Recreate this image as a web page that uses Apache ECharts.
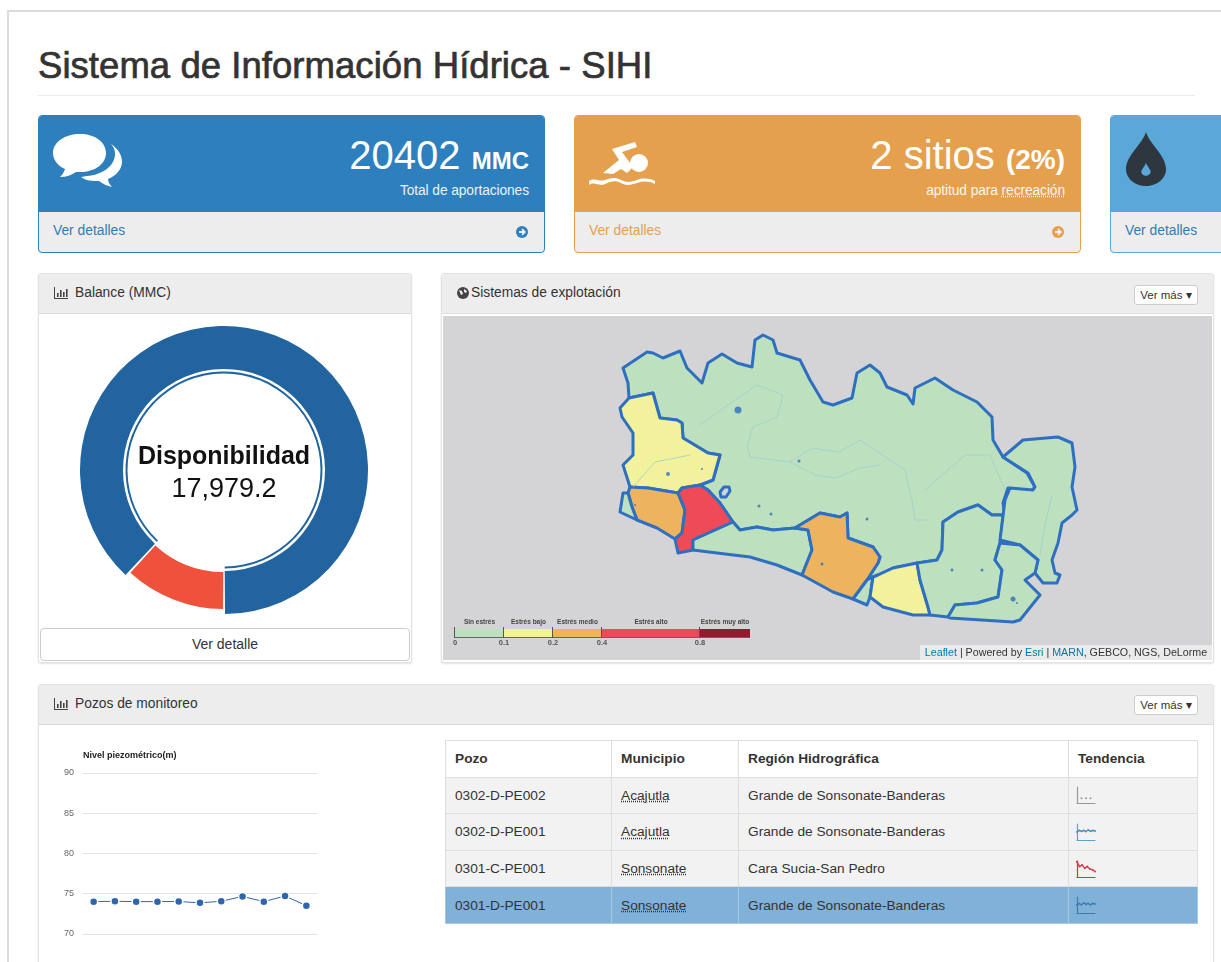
<!DOCTYPE html>
<html lang="es">
<head>
<meta charset="utf-8">
<title>Sistema de Información Hídrica - SIHI</title>
<script src="https://cdn.jsdelivr.net/npm/echarts@6/dist/echarts.min.js"></script>
<style>
html, body { margin: 0; padding: 0; width: 1221px; height: 962px; overflow: hidden; background: #fff; }
body { font-family: "Liberation Sans", Arial, sans-serif; color: #333; position: relative; }
.abs, .card, .panel, .btn { position: absolute; box-sizing: border-box; }
.frame { left: 7px; top: 10px; width: 1300px; height: 1000px; border: 2px solid #dcdcdc; }
h1 { position: absolute; left: 38px; top: 44px; margin: 0; font-size: 36.5px; font-weight: 500; line-height: 44px; color: #333; white-space: nowrap; -webkit-text-stroke: 0.7px #333; letter-spacing: 0.05px; }
.rule { left: 38px; top: 95px; width: 1157px; height: 1px; background: #eaeaea; }
.card { top: 115px; height: 138px; border-radius: 4px; border: 1px solid; overflow: hidden; background: #eeeded; }
.card .top { position: absolute; left: 0; top: 0; right: 0; height: 96px; }
.card .big { position: absolute; right: 15px; top: 14px; font-size: 40px; color: #fff; white-space: nowrap; line-height: 50px; }
.card .big b { font-size: 24px; }
.card .sub { position: absolute; right: 15px; top: 67px; font-size: 13.8px; letter-spacing: -0.1px; color: #fff; opacity: .9; white-space: nowrap; }
.card .sub u { text-decoration: underline dotted; }
.card .foot { position: absolute; left: 14px; top: 107px; font-size: 13.8px; }
.card svg.go { position: absolute; right: 16px; top: 110px; }
.panel { border: 1px solid #e3e3e3; border-radius: 3px; box-shadow: 0 1px 2px rgba(0,0,0,.12); background: #fff; }
.head { position: absolute; left: 0; top: 0; right: 0; height: 39px; background: #eeeded; border-bottom: 1px solid #dcdcdc; font-size: 13.8px; line-height: 38px; }
.head span { position: absolute; left: 36px; white-space: nowrap; }
.head svg { position: absolute; left: 15px; top: 13px; }
.btn { background: #fff; border: 1px solid #ccc; border-radius: 3px; font-size: 11.5px; line-height: 19px; text-align: center; color: #333; white-space: nowrap; }
table { position: absolute; left: 445px; top: 740px; width: 752px; border-collapse: collapse; table-layout: fixed; font-size: 13.7px; }
th, td { border: 1px solid #dedede; height: 36.6px; padding: 0 0 0 9px; text-align: left; box-sizing: border-box; white-space: nowrap; }
td u { text-decoration: underline dotted; }
tbody tr { background: #f3f2f3; }
tbody tr.sel { background: #80b1d9; }
tr.sel td { border-color: #a8c8e2; }
.legend { left: 455px; top: 617px; width: 295px; height: 34px; }
.legend div { position: absolute; white-space: nowrap; }
.attrib { left: 920px; top: 645px; width: 292px; height: 15px; background: rgba(240,240,240,.8); font-size: 10.7px; line-height: 15px; text-align: center; color: #333; white-space: nowrap; }
.attrib a { color: #0078a8; }
</style>
</head>
<body>
<div class="abs frame"></div>
<h1>Sistema de Información Hídrica - SIHI</h1>
<div class="abs rule"></div>

<div class="card" style="left:38px;width:507px;border-color:#2e7fbd">
  <div class="top" style="background:#2e7fbd"></div>
  <svg class="abs" style="left:14px;top:18px" width="72" height="60" viewBox="0 0 72 60" fill="#fff">
    <path d="M27 0C12 0 0 8 0 19c0 7 5 13 12 16-1 3-2 5-5 8 6 0 12-2 16-5 1 0 3 0 4 0 15 0 26-8 26-19S42 0 27 0z"/>
    <path d="M58 10c3 3 4 7 4 10 0 12-13 21-28 22l-6 1c4 3 9 4 14 4 2 0 3 0 4 0 4 3 8 5 13 6-2-2-4-5-4-8 8-3 14-10 14-17 0-8-5-14-11-18z"/>
  </svg>
  <div class="big">20402 <b>MMC</b></div>
  <div class="sub">Total de aportaciones</div>
  <div class="foot" style="color:#337ab7">Ver detalles</div>
  <svg class="go" width="12" height="12" viewBox="0 0 12 12"><circle cx="6" cy="6" r="6" fill="#2e7fbd"/><path d="M3 6h5M6 3.2 8.8 6 6 8.8" stroke="#eee" stroke-width="1.8" fill="none"/></svg>
</div>

<div class="card" style="left:574px;width:507px;border-color:#e5a04d">
  <div class="top" style="background:#e5a04d"></div>
  <svg class="abs" style="left:14px;top:20px" width="66" height="56" viewBox="0 0 66 56" fill="#fff">
    <circle cx="50" cy="27" r="9"/>
    <path d="M14 37 30 24 23 13 46 6 48 11 33 16 44 31 38 37 32 33 24 38z"/>
    <path d="M0 45c6-4 10 1 16-1s10-3 16 0 11 2 16 0 12-2 18 1v3c-6-3-12-3-18-1s-11 3-16 0-10-2-16 1-10-3-16 1z"/>
  </svg>
  <div class="big">2 sitios <b style="font-size:28px">(2%)</b></div>
  <div class="sub">aptitud para <u>recreación</u></div>
  <div class="foot" style="color:#e5a04d">Ver detalles</div>
  <svg class="go" width="12" height="12" viewBox="0 0 12 12"><circle cx="6" cy="6" r="6" fill="#e5a04d"/><path d="M3 6h5M6 3.2 8.8 6 6 8.8" stroke="#eee" stroke-width="1.8" fill="none"/></svg>
</div>

<div class="card" style="left:1110px;width:300px;border-color:#5aa8d8">
  <div class="top" style="background:#5aa8d8"></div>
  <svg class="abs" style="left:15px;top:15px" width="40" height="56" viewBox="0 0 34 60" preserveAspectRatio="none">
    <path d="M17 1C14 14 0 26 0 41c0 10 8 18 17 18s17-8 17-18C34 26 20 14 17 1z" fill="#2e3740"/>
    <path d="M17 34c-1 4-4 7-4 10 0 2 2 4 4 4s4-2 4-4c0-3-3-6-4-10z" fill="#5aa8d8"/>
  </svg>
  <div class="foot" style="color:#337ab7">Ver detalles</div>
</div>

<div class="panel" style="left:38px;top:273px;width:374px;height:390px">
  <div class="head"><svg width="14" height="12" viewBox="0 0 14 12" fill="#444"><path d="M0 0h1v11h13v1H0z"/><path d="M3 6h1.6v4H3zM6 3h1.6v7H6zM9 5h1.6v5H9zM12 2h1.6v8H12z"/></svg><span>Balance (MMC)</span></div>
</div>
<div class="btn" style="left:40px;top:628px;width:370px;height:33px;line-height:31px;font-size:14px;border-radius:4px">Ver detalle</div>

<div class="panel" style="left:441px;top:273px;width:773px;height:390px">
  <div class="head"><svg width="12" height="12" viewBox="0 0 12 12"><circle cx="6" cy="6" r="6" fill="#444"/><path d="M2 3l3 1 1 3-2 1zM7 2l3 2-1 2-2-1z" fill="#eee"/></svg><span style="left:29px">Sistemas de explotación</span></div>
</div>
<div class="btn" style="left:1134px;top:285px;width:64px;height:20px">Ver más ▾</div>
<div id="map" class="abs" style="left:443px;top:316px;width:769px;height:344px"></div>
<div class="abs legend" id="legend"></div>
<div class="abs attrib"><a>Leaflet</a> | Powered by <a>Esri</a> | <a>MARN</a>, GEBCO, NGS, DeLorme</div>

<div class="panel" style="left:38px;top:684px;width:1176px;height:320px">
  <div class="head"><svg width="14" height="12" viewBox="0 0 14 12" fill="#444"><path d="M0 0h1v11h13v1H0z"/><path d="M3 6h1.6v4H3zM6 3h1.6v7H6zM9 5h1.6v5H9zM12 2h1.6v8H12z"/></svg><span>Pozos de monitoreo</span></div>
</div>
<div class="btn" style="left:1134px;top:695px;width:64px;height:20px">Ver más ▾</div>

<div id="donut" class="abs" style="left:44px;top:316px;width:360px;height:308px"></div>
<div id="nivel" class="abs" style="left:44px;top:745px;width:290px;height:250px"></div>
<table id="pozos"></table>

<script>
// balance
const balanceLabels = ['Comprometido', 'Disponibilidad'];
const balanceValues = [2422.8, 17979.2];
const balanceColors = ['#f0513a', '#22649f'];

// nivel piezometrico
const nivelMeses = ['1', '2', '3', '4', '5', '6', '7', '8', '9', '10', '11'];
const nivelValues = [74.0, 74.05, 74.0, 74.0, 74.02, 73.85, 74.05, 74.65, 74.0, 74.7, 73.5];

// tabla de pozos
const pozos = ['0302-D-PE002', '0302-D-PE001', '0301-C-PE001', '0301-D-PE001'];
const municipios = ['Acajutla', 'Acajutla', 'Sonsonate', 'Sonsonate'];
const regiones = ['Grande de Sonsonate-Banderas', 'Grande de Sonsonate-Banderas', 'Cara Sucia-San Pedro', 'Grande de Sonsonate-Banderas'];
const tendGris = [null, null, 3, null, 3, null, 3, null, null];
const tendAzul = [5, 6, 5.4, 6, 5.3, 6.2, 5.4, 6, 5.6];
const tendRojo = [9.5, 6.5, 7.5, 5.5, 6.5, 5, 4.5, 3.5];
const tendAzul2 = [5, 6, 5.2, 6.2, 5.4, 6, 5.2, 6, 5.6];

// estres hidrico
const estresNombres = ['Sin estrés', 'Estrés bajo', 'Estrés medio', 'Estrés alto', 'Estrés muy alto'];
const estresTicks = [0, 0.1, 0.2, 0.4, 0.8];
const estresColores = ['#bde1bf', '#f3f29c', '#edb35f', '#ef4a57', '#8f1d2f'];

// sistemas de explotacion, contornos
const sisNorte = [[623,368],[647,352],[653,353],[663,358],[680,351],[687,368],[702,383],[708,363],[722,354],[737,363],[752,367],[755,340],[763,335],[773,340],[777,353],[800,360],[810,380],[823,402],[833,405],[852,398],[857,373],[870,365],[880,373],[887,387],[907,395],[913,404],[915,388],[935,378],[953,390],[977,402],[992,417],[993,440],[1003,457],[1027,473],[1035,487],[1030,492],[1008,488],[1003,503],[1005,515],[992,515],[978,505],[958,512],[943,522],[942,550],[937,560],[918,563],[893,568],[878,575],[867,580],[878,563],[880,557],[873,547],[848,538],[847,513],[840,517],[820,513],[795,528],[773,530],[757,527],[740,530],[733,522],[720,503],[708,490],[700,485],[713,480],[720,455],[708,453],[683,438],[682,423],[677,420],[660,418],[653,393],[629,398],[628,383]];
const sisOesteAlto = [[653,393],[660,418],[677,420],[682,423],[683,438],[708,453],[720,455],[713,480],[700,485],[682,488],[678,493],[648,488],[630,487],[623,465],[633,455],[633,433],[622,417],[620,408],[629,398]];
const sisOesteBajo = [[630,487],[648,488],[678,493],[685,510],[682,533],[675,539],[657,528],[637,520],[632,507],[628,493]];
const sisPunta = [[623,493],[628,493],[632,507],[637,520],[620,512]];
const sisRojo = [[682,488],[700,485],[708,490],[720,503],[733,522],[693,540],[693,550],[678,553],[675,539],[682,533],[685,510],[678,493]];
const sisCosta = [[733,522],[740,530],[757,527],[773,530],[795,528],[808,530],[812,550],[802,575],[777,565],[750,557],[717,553],[693,550],[693,540]];
const sisCentro = [[795,528],[820,513],[840,517],[847,513],[848,538],[873,547],[880,557],[878,563],[867,580],[853,599],[833,592],[802,575],[812,550],[808,530]];
const sisFranja = [[867,580],[878,575],[873,577],[870,597],[867,605],[853,599]];
const sisSurAmarillo = [[873,577],[878,575],[893,568],[917,563],[920,580],[928,607],[930,615],[913,615],[883,607],[870,597]];
const sisSurVerde = [[943,522],[958,512],[978,505],[992,515],[1003,515],[1002,527],[1000,543],[995,560],[1002,570],[998,597],[977,603],[955,605],[948,617],[930,615],[928,607],[920,580],[917,563],[937,560],[942,550]];
const sisEste = [[1003,457],[1023,440],[1058,437],[1072,443],[1075,467],[1072,487],[1077,510],[1072,515],[1062,523],[1058,543],[1052,560],[1055,573],[1060,575],[1057,583],[1043,583],[1035,573],[1038,560],[1020,545],[1000,540],[1005,500],[1010,488],[1033,490],[1035,487],[1028,473]];
const sisSurEste = [[1000,543],[1020,545],[1038,560],[1035,573],[1025,580],[1040,595],[1020,620],[1013,622],[950,618],[948,617],[955,605],[977,603],[998,597],[1002,570],[995,560]];
const sisLaguna = [[720,492],[724,487],[729,487],[730,491],[726,497],[721,497]];
const sisNombres = ['Norte', 'Oeste alto', 'Oeste bajo', 'Punta', 'Rojo', 'Costa', 'Centro', 'Franja', 'Sur amarillo', 'Sur verde', 'Este', 'Sur este'];
const sisContornos = [sisNorte, sisOesteAlto, sisOesteBajo, sisPunta, sisRojo, sisCosta, sisCentro, sisFranja, sisSurAmarillo, sisSurVerde, sisEste, sisSurEste];
const sisEstres = [0.05, 0.15, 0.3, 0.05, 0.6, 0.05, 0.3, 0.05, 0.15, 0.05, 0.05, 0.05];
const rios = [
  [[700,425],[735,400],[757,385],[783,395],[777,417],[753,427],[747,447],[750,457],[790,462],[812,448],[840,452],[860,440],[905,470],[912,500]],
  [[790,462],[815,475],[835,478],[860,468],[880,465]],
  [[912,500],[915,520],[930,520]],
  [[925,490],[965,455],[990,455],[1005,490]],
  [[1052,495],[1045,525],[1040,555]],
  [[633,487],[655,462],[690,455]]
];
const lagos = [[738,410,7],[799,461,3],[759,506,3],[771,514,3],[867,519,3],[822,564,3],[668,474,4],[702,469,2],[952,570,3],[982,570,3],[1013,599,5],[1017,603,2],[635,505,2]];

// leyenda y tabla
const legend = document.getElementById('legend');
const escala = x => x <= 0.4 ? [0, 49, 98, 147][estresTicks.indexOf(x)] : 245;
estresColores.forEach(function (c, i) {
    const x0 = escala(estresTicks[i]);
    const x1 = i < estresTicks.length - 1 ? escala(estresTicks[i + 1]) : 295;
    legend.insertAdjacentHTML('beforeend',
        `<div style="left:${x0}px;top:12px;width:${x1 - x0}px;height:8px;background:${c};box-shadow:0 1px 0 #666"></div>` +
        `<div style="left:${x0}px;top:1px;width:${x1 - x0}px;text-align:center;font-size:6.5px;font-weight:bold;color:#444">${estresNombres[i]}</div>` +
        `<div style="left:${x0 - 1}px;top:10px;width:1px;height:11px;background:#555"></div>` +
        `<div style="left:${x0 - 8}px;top:21px;width:16px;text-align:center;font-size:7.5px;font-weight:bold;color:#555">${estresTicks[i]}</div>`);
});

let filas = '<colgroup><col style="width:166px"><col style="width:127px"><col style="width:330px"><col style="width:129px"></colgroup>' +
    '<thead><tr><th>Pozo</th><th>Municipio</th><th>Región Hidrográfica</th><th>Tendencia</th></tr></thead><tbody>';
pozos.forEach(function (p, i) {
    filas += `<tr${i === 3 ? ' class="sel"' : ''}><td>${p}</td><td><u>${municipios[i]}</u></td><td>${regiones[i]}</td><td></td></tr>`;
});
document.getElementById('pozos').innerHTML = filas + '</tbody>';

// donut
const sinRelleno = { color: 'transparent' };
function anillo(radius, idx) {
    return {
        type: 'pie',
        radius: radius,
        center: [180, 154],
        startAngle: 270,
        padAngle: 0.8,
        silent: true,
        label: { show: false },
        labelLine: { show: false },
        data: balanceValues.map(function (v, i) {
            return { name: balanceLabels[i], value: v, itemStyle: i === idx ? { color: balanceColors[i] } : sinRelleno };
        })
    };
}
echarts.init(document.getElementById('donut')).setOption({
    animation: false,
    title: [
        { text: 'Disponibilidad', left: 'center', top: 124, textStyle: { fontFamily: 'Liberation Sans', fontSize: 25, fontWeight: 'bold', color: '#111' } },
        { text: '17,979.2', left: 'center', top: 155, textStyle: { fontFamily: 'Liberation Sans', fontSize: 27, fontWeight: 'normal', color: '#111' } }
    ],
    series: [anillo([101, 144], 1), anillo([96.5, 98.5], 1), anillo([102, 139], 0)]
});

// mapa
echarts.registerMap('sihi', {
    type: 'FeatureCollection',
    features: sisContornos.map(function (c, i) {
        return { type: 'Feature', properties: { name: sisNombres[i] }, geometry: { type: 'Polygon', coordinates: [c.concat([c[0]])] } };
    }).concat([{ type: 'Feature', properties: { name: 'Laguna' }, geometry: { type: 'Polygon', coordinates: [sisLaguna.concat([sisLaguna[0]])] } }])
});
echarts.init(document.getElementById('map')).setOption({
    animation: false,
    backgroundColor: '#d4d3d5',
    visualMap: {
        show: false,
        seriesIndex: 0,
        pieces: estresColores.map(function (c, i) {
            return { gte: estresTicks[i], lt: i < estresTicks.length - 1 ? estresTicks[i + 1] : 1, color: c };
        })
    },
    geo: {
        map: 'sihi',
        silent: true,
        projection: { project: p => p, unproject: p => p },
        left: 620 - 443,
        top: 335 - 316,
        width: 457,
        height: 287,
        label: { show: false },
        itemStyle: { borderColor: '#2f6fc0', borderWidth: 3, borderJoin: 'round', areaColor: '#d4d3d5' },
        emphasis: { disabled: true }
    },
    series: [
        {
            type: 'map',
            geoIndex: 0,
            data: sisNombres.map(function (n, i) { return { name: n, value: sisEstres[i] }; })
        },
        {
            type: 'lines',
            coordinateSystem: 'geo',
            polyline: true,
            silent: true,
            lineStyle: { color: '#9fd0cc', width: 1, opacity: 0.8 },
            data: rios.map(function (r) { return { coords: r }; })
        },
        {
            type: 'scatter',
            coordinateSystem: 'geo',
            silent: true,
            symbolSize: d => d[2],
            itemStyle: { color: '#2f6fc0' },
            data: lagos
        }
    ]
});

// nivel piezometrico
echarts.init(document.getElementById('nivel')).setOption({
    animation: false,
    title: { text: 'Nivel piezométrico(m)', left: 39, top: 6, padding: 0, textStyle: { fontFamily: 'Liberation Sans', fontSize: 9, fontWeight: 'bold', color: '#222' } },
    grid: { left: 39, right: 17, top: 28, bottom: 21 },
    xAxis: { type: 'category', data: nivelMeses, show: false },
    yAxis: {
        type: 'value',
        min: 65,
        max: 90,
        interval: 5,
        axisLabel: { fontFamily: 'Liberation Sans', fontSize: 9, color: '#666', margin: 9 },
        axisLine: { show: false },
        axisTick: { show: false },
        splitLine: { lineStyle: { color: '#e2e2e2' } }
    },
    series: [{
        type: 'line',
        data: nivelValues,
        symbol: 'circle',
        symbolSize: 8,
        lineStyle: { color: '#2f65ad', width: 1 },
        itemStyle: { color: '#2f65ad', borderColor: '#fff', borderWidth: 1.5 }
    }]
});

// tendencias
function tendencia(data, color, x, y, eje) {
    const div = document.createElement('div');
    div.className = 'abs';
    div.style.cssText = `left:${x}px;top:${y}px;width:20px;height:18px`;
    document.body.appendChild(div);
    const linea = { show: true, lineStyle: { color: eje, width: 1.2 } };
    echarts.init(div).setOption({
        animation: false,
        grid: { left: 1, right: 1, top: 1, bottom: 1 },
        xAxis: { type: 'category', boundaryGap: false, data: data.map((d, i) => i), axisLine: Object.assign({ onZero: false }, linea), axisTick: { show: false }, axisLabel: { show: false } },
        yAxis: { type: 'value', min: 0, max: 10, axisLine: linea, axisTick: { show: false }, axisLabel: { show: false }, splitLine: { show: false } },
        series: [{
            type: 'line',
            data: data,
            symbol: 'circle',
            symbolSize: 2,
            showAllSymbol: true,
            lineStyle: { color: color, width: 1.2 },
            itemStyle: { color: color }
        }]
    });
}
tendencia(tendGris, '#999', 1076, 786, '#999');
tendencia(tendAzul, '#4a90b8', 1076, 823, '#5fa0c8');
tendencia(tendRojo, '#d8323f', 1076, 860, '#d8323f');
tendencia(tendAzul2, '#3f7cab', 1076, 896, '#3f7cab');
</script>
</body>
</html>
